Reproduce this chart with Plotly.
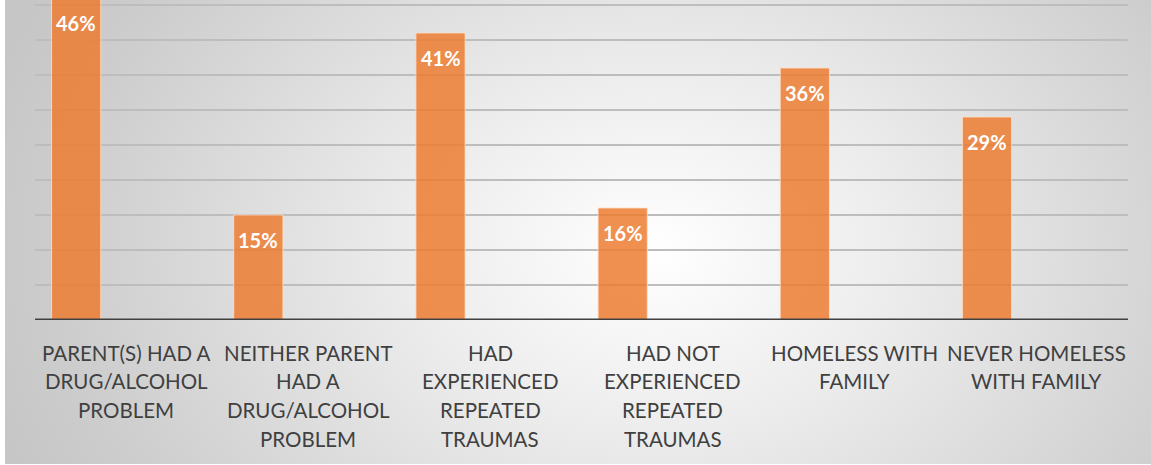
import base64
import plotly.graph_objects as go

categories = [
    "PARENT(S) HAD A<br>DRUG/ALCOHOL<br>PROBLEM",
    "NEITHER PARENT<br>HAD A<br>DRUG/ALCOHOL<br>PROBLEM",
    "HAD<br>EXPERIENCED<br>REPEATED<br>TRAUMAS",
    "HAD NOT<br>EXPERIENCED<br>REPEATED<br>TRAUMAS",
    "HOMELESS WITH<br>FAMILY",
    "NEVER HOMELESS<br>WITH FAMILY",
]
values = [46, 15, 41, 16, 36, 29]
labels = [f"{v}%" for v in values]

FONT = "Lato, 'Open Sans', sans-serif"
PX_PER_UNIT = 7.0
Y_MAX = 320 / PX_PER_UNIT
BAR_W = 0.27
BAR_SHIFT = -0.274  # bars sit left of the category centre (empty 2nd series slot)

svg = (
    '<svg xmlns="http://www.w3.org/2000/svg" width="1146" height="464" '
    'viewBox="0 0 1146 464" preserveAspectRatio="none">'
    '<defs><radialGradient id="g" gradientUnits="userSpaceOnUse" cx="650" cy="250" r="700" '
    'gradientTransform="translate(650 250) scale(1 0.75) translate(-650 -250)">'
    '<stop offset="0" stop-color="#ffffff"/>'
    '<stop offset="0.35" stop-color="#ececec"/>'
    '<stop offset="0.85" stop-color="#cdcdcd"/>'
    '<stop offset="1" stop-color="#c6c6c6"/>'
    '</radialGradient></defs>'
    '<rect width="1146" height="464" fill="url(#g)"/></svg>'
)
src = "data:image/svg+xml;base64," + base64.b64encode(svg.encode()).decode()

x_ids = list(range(len(categories)))

fig = go.Figure()
fig.add_trace(go.Bar(
    x=x_ids, y=values,
    width=BAR_W, offset=BAR_SHIFT - BAR_W / 2,
    marker=dict(color="rgba(237,125,49,0.85)",
                line=dict(color="rgba(255,225,200,0.8)", width=1)),
    hoverinfo="skip",
))

annotations = []
for xi, v, lab in zip(x_ids, values, labels):
    annotations.append(dict(
        x=xi + BAR_SHIFT, y=v - 25 / PX_PER_UNIT, xref="x", yref="y", text=lab,
        showarrow=False,
        font=dict(family=FONT, size=20, color="white", weight="bold"),
        yanchor="middle",
    ))
for xi, cat in zip(x_ids, categories):
    for i, line in enumerate(cat.split("<br>")):
        annotations.append(dict(
            x=xi, y=0, xref="x", yref="y", text=line, showarrow=False,
            yshift=-32.5 - 28.8 * i, yanchor="middle",
            font=dict(family=FONT, size=20.5, color="#404040"),
        ))

fig.update_layout(
    width=1151, height=465,
    margin=dict(l=35, r=23, t=0, b=145),
    paper_bgcolor="white",
    plot_bgcolor="rgba(0,0,0,0)",
    showlegend=False,
    images=[dict(source=src, xref="paper", yref="paper", x=-30/1093, y=1.0,
                 sizex=1146/1093, sizey=464/320, xanchor="left", yanchor="top",
                 sizing="stretch", layer="below")],
    xaxis=dict(range=[-0.5, 5.5], showticklabels=False, showgrid=False,
               zeroline=False, ticks=""),
    yaxis=dict(range=[0, Y_MAX], dtick=5, showgrid=True, gridcolor="#bdbdbd",
               gridwidth=1.5, showticklabels=False, zeroline=False, ticks=""),
    annotations=annotations,
    shapes=[dict(type="line", xref="paper", yref="y", x0=0, x1=1, y0=0, y1=0,
                 line=dict(color="#404040", width=3), layer="above")],
)

fig.write_html("out.html", config={"displayModeBar": False},
               post_script="document.body.style.margin='0';document.body.style.overflow='hidden';")
